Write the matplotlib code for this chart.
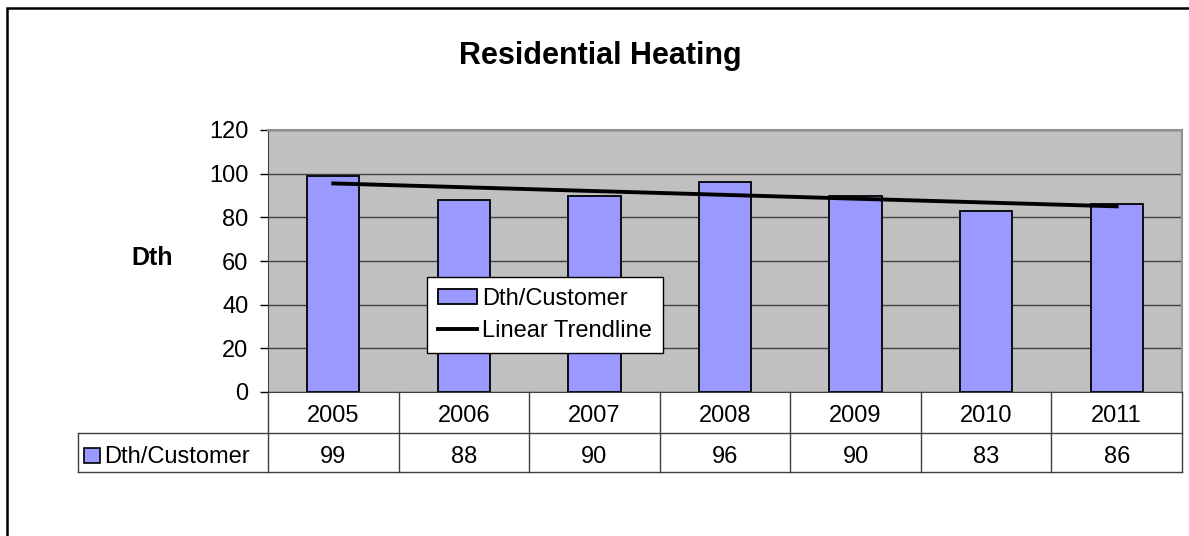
import numpy as np
import matplotlib
matplotlib.use("Agg")
import matplotlib.pyplot as plt
from matplotlib.lines import Line2D
from matplotlib.patches import Rectangle, Patch

plt.rcParams['font.family'] = ['Liberation Sans', 'DejaVu Sans']

years = ["2005", "2006", "2007", "2008", "2009", "2010", "2011"]
dth_per_customer = [99, 88, 90, 96, 90, 83, 86]
series_name = "Dth/Customer"
trend_name = "Linear Trendline"
title = "Residential Heating"

W, H = 1189, 536
fig = plt.figure(figsize=(W / 100, H / 100), dpi=100)


def fx(x):
    return x / W


def fy(y):
    return 1 - y / H


# outer chart border
fig.add_artist(Rectangle((fx(7), fy(1000)), fx(1400), fy(8) - fy(1000), transform=fig.transFigure,
                         fill=False, edgecolor="black", linewidth=1.8))

left, right, top, bottom = 268, 1182, 130, 392
ax = fig.add_axes([fx(left), fy(bottom), fx(right - left), fy(top) - fy(bottom)])
ax.set_facecolor("#C0C0C0")

x = np.arange(len(years))
ax.bar(x, dth_per_customer, width=0.4, color="#9999FF", edgecolor="black", linewidth=1.3, zorder=3)

slope, intercept = np.polyfit(x, dth_per_customer, 1)
ax.plot(x, slope * x + intercept, color="black", linewidth=2.8, zorder=4)

ax.set_xlim(-0.5, len(years) - 0.5)
ax.set_ylim(0, 120)
ax.set_yticks(range(0, 121, 20))
ax.set_xticks([])
ax.tick_params(axis="y", labelsize=17, length=6, width=1, pad=8)
ax.yaxis.grid(True, color="#404040", linewidth=1)
ax.set_axisbelow(True)
for side in ["top", "right"]:
    ax.spines[side].set_color("#909090")
    ax.spines[side].set_linewidth(1.5)
ax.spines["left"].set_color("#404040")
ax.spines["bottom"].set_color("#404040")

fig.text(fx(600), fy(64), title, ha="center", va="baseline", fontsize=22, fontweight="bold")
fig.text(fx(152), fy(265), "Dth", ha="center", va="baseline", fontsize=18, fontweight="bold")

handles = [Patch(facecolor="#9999FF", edgecolor="black", linewidth=1.3),
           Line2D([0], [0], color="black", linewidth=2.8)]
leg = ax.legend(handles, [series_name, trend_name], loc="upper left",
                bbox_to_anchor=(fx(427), fy(277)), bbox_transform=fig.transFigure,
                fontsize=17, frameon=True, fancybox=False, edgecolor="black", framealpha=1,
                borderpad=0.45, handlelength=1.65, handleheight=0.6, handletextpad=0.25,
                labelspacing=0.45, borderaxespad=0)
leg.get_frame().set_linewidth(1)
leg.set_zorder(10)

# data table below the axis
row1_top, row_mid, row_bot = 392, 433, 472
label_left = 78
col_w = (right - left) / len(years)
line_kw = dict(transform=fig.transFigure, color="#404040", linewidth=1)
fig.add_artist(Line2D([fx(label_left), fx(right)], [fy(row_mid)] * 2, **line_kw))
fig.add_artist(Line2D([fx(label_left), fx(right)], [fy(row_bot)] * 2, **line_kw))
fig.add_artist(Line2D([fx(label_left)] * 2, [fy(row_mid), fy(row_bot)], **line_kw))
for i in range(len(years) + 1):
    xe = left + i * col_w
    fig.add_artist(Line2D([fx(xe)] * 2, [fy(row1_top), fy(row_bot)], **line_kw))
for i, (yr, v) in enumerate(zip(years, dth_per_customer)):
    xc = left + (i + 0.5) * col_w
    fig.text(fx(xc), fy(422), yr, ha="center", va="baseline", fontsize=17)
    fig.text(fx(xc), fy(463), str(v), ha="center", va="baseline", fontsize=17)

fig.add_artist(Rectangle((fx(84), fy(463)), fx(16), fy(448) - fy(463), transform=fig.transFigure,
                         facecolor="#9999FF", edgecolor="black", linewidth=1.2))
fig.text(fx(104), fy(463), series_name, ha="left", va="baseline", fontsize=17)

fig.savefig("out.png", dpi=100)
